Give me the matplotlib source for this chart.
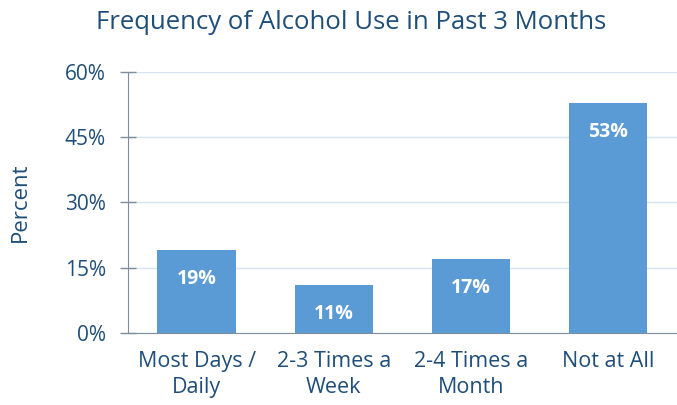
import matplotlib.pyplot as plt
from matplotlib.ticker import FuncFormatter

categories = ['Most Days /\nDaily', '2-3 Times a\nWeek', '2-4 Times a\nMonth', 'Not at All']
percents = [19, 11, 17, 53]
yticks = [0, 15, 30, 45, 60]

TEXT = '#1F4E79'
BAR = '#5B9BD5'

plt.rcParams['font.family'] = ['Open Sans', 'DejaVu Sans']

fig = plt.figure(figsize=(6.77, 4.05), dpi=100)
ax = fig.add_axes([0.189, 0.178, 0.811, 0.644])

x = range(len(categories))
bars = ax.bar(x, percents, width=0.57, color=BAR, zorder=3)
for b, v in zip(bars, percents):
    ax.annotate(f'{v}%', (b.get_x() + b.get_width() / 2, v),
                xytext=(0, -21), textcoords='offset points',
                ha='center', va='center', color='white',
                fontsize=14, fontweight='bold', fontstretch='normal', zorder=4)

ax.set_xlim(-0.5, len(categories) - 0.5)
ax.set_ylim(0, 60)
ax.set_yticks(yticks)
ax.yaxis.set_major_formatter(FuncFormatter(lambda v, p: f'{v:.0f}%'))
ax.set_xticks(list(x))
ax.set_xticklabels(categories)
ax.grid(axis='y', color='#D6E4F2', linewidth=1, zorder=0)
ax.tick_params(axis='y', colors='#7F8C9A', labelcolor=TEXT, labelsize=15,
               direction='inout', length=12, width=1, pad=10)
ax.tick_params(axis='x', length=0, labelcolor=TEXT, labelsize=15.5, pad=13)
for lbl in ax.get_xticklabels():
    lbl.set_linespacing(1.3)

for s in ['top', 'right']:
    ax.spines[s].set_visible(False)
ax.spines['left'].set_color('#7F8C9A')
ax.spines['bottom'].set_color('#7F8C9A')

ax.set_ylabel('Percent', color=TEXT, fontsize=16, labelpad=24)
fig.text(0.518, 0.945, 'Frequency of Alcohol Use in Past 3 Months',
         ha='center', va='center', color=TEXT, fontsize=18.5)

fig.savefig('out.png', dpi=100)
